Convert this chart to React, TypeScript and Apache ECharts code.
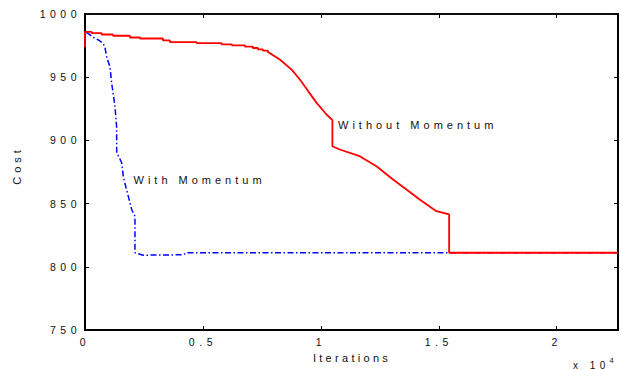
import React, { useEffect, useRef } from 'react';
import * as echarts from 'echarts';

// Without Momentum (red) – iterations and cost
const redIters = [0, 0, 284, 284, 708, 708, 1186, 1186, 1907, 1907, 2330, 2330, 3305, 3305, 3600, 3600, 4733, 4733, 5792, 5792, 6229, 6229, 6780, 6780, 7119, 7119, 7330, 7330, 7542, 7542, 7754, 7754, 8260, 8760, 9110, 9460, 9820, 10240, 10490, 10490, 10800, 11650, 12360, 13060, 13630, 14190, 14900, 15440, 15440, 22600];
const redCost = [973.7, 985.9, 985.9, 984.8, 984.8, 983.8, 983.8, 982.8, 982.8, 981.4, 981.4, 980.6, 980.6, 979.2, 979.2, 977.8, 977.8, 977.0, 977.0, 976.0, 976.0, 975.2, 975.2, 974.2, 974.2, 973.1, 973.1, 972.0, 972.0, 971.0, 971.0, 970.0, 964, 956, 948.2, 939, 929.7, 920.5, 916, 895.4, 892.8, 887.5, 879.6, 869.1, 861.2, 853.2, 844, 841.4, 811.1, 811.1];

// With Momentum (blue) – iterations and cost
const blueIters = [60, 350, 560, 770, 850, 920, 1060, 1130, 1270, 1340, 1345, 1450, 1555, 1623, 1737, 1835, 1979, 2119, 2119, 2470, 4165, 4309, 22600];
const blueCost = [985.6, 981.5, 979.5, 976.8, 973, 966, 958, 945.5, 927, 911, 890.2, 886.5, 882.3, 871.7, 862.7, 855.9, 845.3, 840, 811.1, 809.2, 809.5, 811.1, 811.1];

const xMin = 0;
const xMax = 22600;
const xInterval = 5000;
const yMin = 750;
const yMax = 1000;
const yInterval = 50;

const seriesNames = ['With Momentum', 'Without Momentum'];
const xAxisName = 'Iterations';
const yAxisName = 'Cost';
const xScaleText = 'x 10';
const xScaleExp = '4';

const FONT = '"Liberation Sans", Arial, Helvetica, sans-serif';
const TXT = '#111';

export default function App() {
  const ref = useRef<HTMLDivElement>(null);

  useEffect(() => {
    if (!ref.current) return;
    const chart = echarts.init(ref.current, undefined, { renderer: 'svg', width: 621, height: 369 });

    const red = redIters.map((x, i) => [x, redCost[i]]);
    const blue = blueIters.map((x, i) => [x, blueCost[i]]);

    const tick = { show: true, inside: true, length: 4, lineStyle: { color: '#000', width: 1, opacity: 1 } };
    const line = (w: number) => ({ show: true, onZero: false, lineStyle: { color: '#000', width: w, opacity: 1 } });

    const option: any = {
      animation: false,
      backgroundColor: '#fff',
      grid: { left: 85, top: 14, width: 533, height: 316, containLabel: false, show: true, borderColor: '#000', borderWidth: 1.5, backgroundColor: 'transparent' },
      xAxis: [
        {
          type: 'value', position: 'bottom', min: xMin, max: xMax, interval: xInterval,
          axisLine: line(2),
          axisTick: tick,
          splitLine: { show: false },
          axisLabel: {
            margin: 6.5, color: TXT, fontSize: 10.5, fontFamily: FONT,
            formatter: (v: number) => (v % xInterval === 0 ? String(v / 10000) : ''),
          },
        },
        {
          type: 'value', position: 'top', min: xMin, max: xMax, interval: xInterval,
          axisLine: line(1.5),
          axisTick: tick,
          splitLine: { show: false },
          axisLabel: { show: false },
        },
      ],
      yAxis: [
        {
          type: 'value', position: 'left', min: yMin, max: yMax, interval: yInterval,
          axisLine: line(2),
          axisTick: tick,
          splitLine: { show: false },
          axisLabel: {
            margin: 4, color: TXT, fontSize: 10.5, fontFamily: FONT,
            formatter: (v: number) => String(v),
          },
        },
        {
          type: 'value', position: 'right', min: yMin, max: yMax, interval: yInterval,
          axisLine: line(2),
          axisTick: tick,
          splitLine: { show: false },
          axisLabel: { show: false },
        },
      ],
      series: [
        {
          name: seriesNames[0], type: 'line', data: blue, showSymbol: false, symbol: 'none',
          xAxisIndex: 0, yAxisIndex: 0,
          lineStyle: { color: '#0000ff', width: 1.5, type: [6, 2.5, 1.5, 2.5] },
          z: 2,
        },
        {
          name: seriesNames[1], type: 'line', data: red, showSymbol: false, symbol: 'none',
          xAxisIndex: 0, yAxisIndex: 0,
          lineStyle: { color: '#ff0000', width: 1.8 },
          z: 3,
        },
      ],
      graphic: [
        {
          type: 'text', x: 338, y: 125,
          style: { text: seriesNames[1], font: `11px ${FONT}`, fill: TXT, align: 'left', verticalAlign: 'middle', textAlign: 'left', textVerticalAlign: 'middle' },
        },
        {
          type: 'text', x: 133.5, y: 179.5,
          style: { text: seriesNames[0], font: `11px ${FONT}`, fill: TXT, align: 'left', verticalAlign: 'middle', textAlign: 'left', textVerticalAlign: 'middle' },
        },
        {
          type: 'text', x: 352, y: 357.5,
          style: { text: xAxisName, font: `11px ${FONT}`, fill: TXT, align: 'center', verticalAlign: 'middle', textAlign: 'center', textVerticalAlign: 'middle' },
        },
        {
          type: 'text', x: 16.7, y: 165.5, rotation: Math.PI / 2,
          style: { text: yAxisName, font: `11px ${FONT}`, fill: TXT, align: 'center', verticalAlign: 'middle', textAlign: 'center', textVerticalAlign: 'middle' },
        },
        {
          type: 'text', x: 573, y: 365,
          style: { text: xScaleText, font: `10px ${FONT}`, fill: TXT, align: 'left', verticalAlign: 'middle', textAlign: 'left', textVerticalAlign: 'middle' },
        },
        {
          type: 'text', x: 609.5, y: 360,
          style: { text: xScaleExp, font: `7.5px ${FONT}`, fill: TXT, align: 'left', verticalAlign: 'middle', textAlign: 'left', textVerticalAlign: 'middle' },
        },
      ],
    };

    chart.setOption(option);

    const applySpacing = () => {
      if (!ref.current) return;
      ref.current.querySelectorAll('text').forEach((t) => {
        const s = t.textContent || '';
        let ls = 4.5;
        if (s === xAxisName) ls = 3.3;
        else if (s === yAxisName || s.indexOf('Momentum') >= 0) ls = 4;
        else if (s === xScaleExp) ls = 0;
        (t as SVGTextElement).style.letterSpacing = ls + 'px';
      });
    };
    applySpacing();
    chart.on('finished', applySpacing);

    return () => {
      chart.dispose();
    };
  }, []);

  return (
    <div
      ref={ref}
      style={{ position: 'fixed', left: 0, top: 0, width: 621, height: 369, background: '#fff' }}
    />
  );
}
